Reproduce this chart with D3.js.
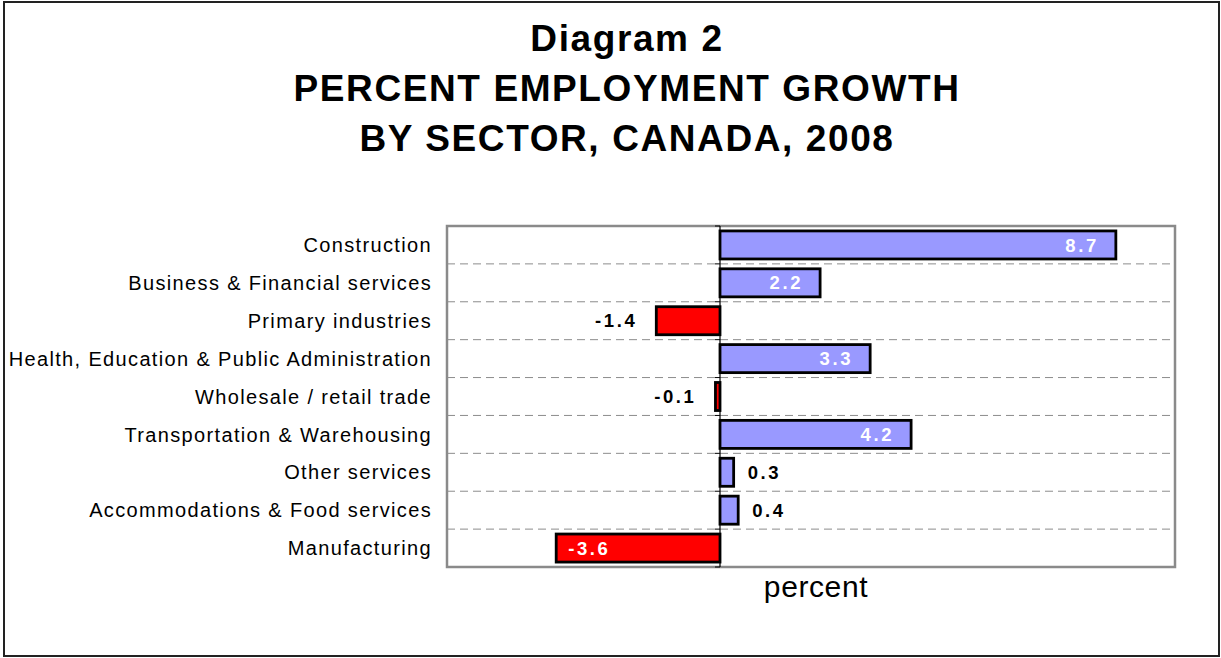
<!DOCTYPE html>
<html>
<head>
<meta charset="utf-8">
<script src="https://cdn.jsdelivr.net/npm/d3@7"></script>
<style>
  body { margin: 0; background: #fff; }
  text { font-family: "Liberation Sans", Arial, sans-serif; }
</style>
</head>
<body>
<svg id="chart" width="1221" height="658"></svg>
<script>
// data
var sectors = ["Construction", "Business & Financial services", "Primary industries",
  "Health, Education & Public Administration", "Wholesale / retail trade",
  "Transportation & Warehousing", "Other services", "Accommodations & Food services",
  "Manufacturing"];
var growth = [8.7, 2.2, -1.4, 3.3, -0.1, 4.2, 0.3, 0.4, -3.6];
var titleLines = ["Diagram 2", "PERCENT EMPLOYMENT GROWTH", "BY SECTOR, CANADA, 2008"];
var xDomain = [-6, 10];

var svg = d3.select("#chart");
var W = 1221, H = 658;
var plot = {left: 447, right: 1175, top: 226, bottom: 567};

// outer frame
svg.append("rect")
   .attr("x", 4).attr("y", 2).attr("width", W - 6).attr("height", H - 4)
   .attr("fill", "#fff").attr("stroke", "#222").attr("stroke-width", 2);

// title
svg.append("g").selectAll("text")
   .data(titleLines).enter().append("text")
   .attr("x", 627)
   .attr("y", function(d, i) { return 51 + i * 50; })
   .attr("text-anchor", "middle")
   .attr("font-size", 37).attr("font-weight", "bold")
   .attr("letter-spacing", 1.6)
   .text(function(d) { return d; });

var x = d3.scaleLinear().domain(xDomain).range([plot.left, plot.right]);
var y = d3.scaleBand().domain(sectors).range([plot.top, plot.bottom])
          .paddingInner(0.26).paddingOuter(0.13);

// plot frame
svg.append("rect")
   .attr("x", plot.left).attr("y", plot.top)
   .attr("width", plot.right - plot.left).attr("height", plot.bottom - plot.top)
   .attr("fill", "#fff").attr("stroke", "#8a8a8a").attr("stroke-width", 2.5);

// dashed gridlines between categories
var step = y.step();
var bounds = sectors.slice(1).map(function(d) { return y(d) - y.paddingInner() * step / 2; });
svg.append("g").selectAll("line")
   .data(bounds).enter().append("line")
   .attr("x1", plot.left).attr("x2", plot.right)
   .attr("y1", function(d) { return d; }).attr("y2", function(d) { return d; })
   .attr("stroke", "#8c8c8c").attr("stroke-width", 1)
   .attr("stroke-dasharray", "8,5");

// bars
svg.append("g").selectAll("rect")
   .data(growth).enter().append("rect")
   .attr("x", function(d) { return x(Math.min(0, d)); })
   .attr("y", function(d, i) { return y(sectors[i]); })
   .attr("width", function(d) { return Math.abs(x(d) - x(0)); })
   .attr("height", y.bandwidth())
   .attr("fill", function(d) { return d < 0 ? "#ff0000" : "#9999ff"; })
   .attr("stroke", "#000").attr("stroke-width", 2.8);

// zero axis with small ticks
var zeroAxis = d3.axisLeft(y).tickSize(0).tickFormat("");
svg.append("g").attr("transform", "translate(" + x(0) + ",0)")
   .call(zeroAxis)
   .call(function(g) { g.select(".domain").attr("stroke", "#000").attr("stroke-width", 1.2)
                        .attr("d", "M0," + plot.top + "V" + plot.bottom); });
svg.append("g").selectAll("line")
   .data(bounds.concat([plot.top, plot.bottom])).enter().append("line")
   .attr("x1", x(0) - 5).attr("x2", x(0))
   .attr("y1", function(d) { return d; }).attr("y2", function(d) { return d; })
   .attr("stroke", "#000").attr("stroke-width", 1);

// category labels
svg.append("g").selectAll("text")
   .data(sectors).enter().append("text")
   .attr("x", 432)
   .attr("y", function(d) { return y(d) + y.bandwidth() / 2; })
   .attr("dy", "0.36em")
   .attr("text-anchor", "end")
   .attr("font-size", 20)
   .attr("letter-spacing", 1.35)
   .text(function(d) { return d; });

// value labels
svg.append("g").selectAll("text")
   .data(growth).enter().append("text")
   .attr("y", function(d, i) { return y(sectors[i]) + y.bandwidth() / 2; })
   .attr("dy", "0.36em")
   .attr("font-size", 18.5).attr("font-weight", "bold")
   .attr("letter-spacing", 2.6)
   .each(function(d) {
     var t = d3.select(this);
     var inside = Math.abs(d) >= 2;
     t.attr("fill", inside ? "#fff" : "#000");
     if (d >= 0) {
       if (inside) t.attr("x", x(d) - 17).attr("text-anchor", "end");
       else t.attr("x", x(d) + 14).attr("text-anchor", "start");
     } else {
       if (inside) t.attr("x", x(d) + 12).attr("text-anchor", "start");
       else t.attr("x", x(d) - 19).attr("text-anchor", "end");
     }
   })
   .text(function(d) { return d.toFixed(1); });

// x axis title
svg.append("text")
   .attr("x", (plot.left + plot.right) / 2 + 5)
   .attr("y", 597)
   .attr("text-anchor", "middle")
   .attr("font-size", 30)
   .attr("letter-spacing", 0.6)
   .text("percent");
</script>
</body>
</html>
